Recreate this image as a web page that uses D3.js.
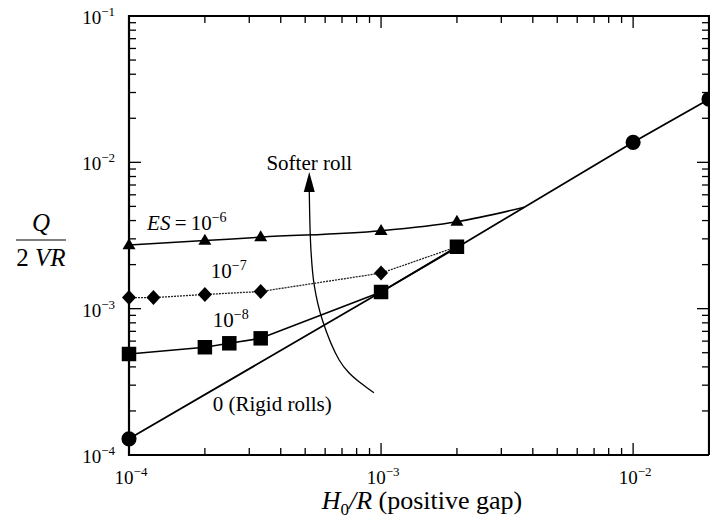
<!DOCTYPE html>
<html>
<head>
<meta charset="utf-8">
<script src="https://cdn.jsdelivr.net/npm/d3@7"></script>
<style>
  html, body { margin: 0; padding: 0; background: #fff; }
  svg { display: block; }
</style>
</head>
<body>
<svg id="chart" width="710" height="527" font-family="'Liberation Serif', 'Times New Roman', serif"></svg>
<script>
// ---------------- data ----------------
const xDomain = [1e-4, 2e-2];
const yDomain = [1e-4, 1e-1];
const xMajorTicks = [1e-4, 1e-3, 1e-2];
const yMajorTicks = [1e-4, 1e-3, 1e-2, 1e-1];
const xTickExponents = ["\u22124", "\u22123", "\u22122"];
const yTickExponents = ["\u22124", "\u22123", "\u22122", "\u22121"];

// Rigid rolls (ES = 0): circles
const rigidX = [1e-4, 1e-3, 2e-3, 1e-2, 2e-2];
const rigidY = [1.29e-4, 1.3e-3, 2.62e-3, 1.37e-2, 2.7e-2];
const rigidMarker = [true, false, false, true, true];

// ES = 1e-8: squares
const es8X = [1e-4, 2e-4, 2.5e-4, 3.33e-4, 1e-3, 2e-3];
const es8Y = [4.9e-4, 5.45e-4, 5.8e-4, 6.27e-4, 1.3e-3, 2.65e-3];
const es8Marker = [true, true, true, true, true, true];

// ES = 1e-7: diamonds (dotted line)
const es7X = [1e-4, 1.25e-4, 2e-4, 3.33e-4, 1e-3, 2e-3];
const es7Y = [1.19e-3, 1.19e-3, 1.25e-3, 1.31e-3, 1.75e-3, 2.65e-3];
const es7Marker = [true, true, true, true, true, false];

// ES = 1e-6: triangles
const es6X = [1e-4, 2e-4, 3.33e-4, 1e-3, 2e-3, 3.7e-3];
const es6Y = [2.72e-3, 2.92e-3, 3.08e-3, 3.41e-3, 3.93e-3, 4.93e-3];
const es6Marker = [true, true, true, true, true, false];

// "Softer roll" arrow path (data coordinates, tail to tip)
const arrowX = [9.37e-4, 8.3e-4, 7.47e-4, 6.82e-4, 5.85e-4, 5.43e-4, 5.27e-4, 5.19e-4];
const arrowY = [2.66e-4, 3.1e-4, 3.63e-4, 4.46e-4, 8.37e-4, 1.45e-3, 2.52e-3, 8.6e-3];

// ---------------- layout ----------------
const svg = d3.select("#chart");
const L = 129, R = 709, T = 16, B = 455;

const x = d3.scaleLog().domain(xDomain).range([L, R]);
const y = d3.scaleLog().domain(yDomain).range([B, T]);

const isPow10 = v => Math.abs(Math.log10(v) - Math.round(Math.log10(v))) < 1e-9;
const xMinor = x.ticks().filter(v => !isPow10(v));
const yMinor = y.ticks().filter(v => !isPow10(v));

// frame
const frame = svg.append("g").attr("stroke", "#000").attr("stroke-width", 2.2).attr("fill", "none");
frame.append("path").attr("d", `M${L},${B}H${R}`);
frame.append("path").attr("d", `M${L},${T}H${R + 1}`);
frame.append("path").attr("d", `M${L},${B + 1}V${T - 1}`);
frame.append("path").attr("d", `M${R},${B}V${T}`);

// inward ticks on all four sides
const maj = 12, minr = 7;
const tickG = svg.append("g").attr("stroke", "#000").attr("stroke-width", 1.3);
const xTickData = xMinor.map(v => [v, minr]).concat(xMajorTicks.map(v => [v, maj]));
const yTickData = yMinor.map(v => [v, minr]).concat(yMajorTicks.map(v => [v, maj]));
tickG.selectAll("line.xb").data(xTickData).join("line").attr("class", "xb")
  .attr("x1", d => x(d[0])).attr("x2", d => x(d[0])).attr("y1", B).attr("y2", d => B - d[1]);
tickG.selectAll("line.xt").data(xTickData).join("line").attr("class", "xt")
  .attr("x1", d => x(d[0])).attr("x2", d => x(d[0])).attr("y1", T).attr("y2", d => T + d[1]);
tickG.selectAll("line.yl").data(yTickData).join("line").attr("class", "yl")
  .attr("y1", d => y(d[0])).attr("y2", d => y(d[0])).attr("x1", L).attr("x2", d => L + d[1]);
tickG.selectAll("line.yr").data(yTickData).join("line").attr("class", "yr")
  .attr("y1", d => y(d[0])).attr("y2", d => y(d[0])).attr("x1", R).attr("x2", d => R - d[1]);

// tick labels
const tickFont = 19, supFont = 13;
xMajorTicks.forEach((v, i) => {
  const t = svg.append("text").attr("x", x(v) + 2).attr("y", B + 29)
    .attr("text-anchor", "middle").attr("font-size", tickFont);
  t.append("tspan").text("10");
  t.append("tspan").attr("dy", -8).attr("font-size", supFont).text(xTickExponents[i]);
});
yMajorTicks.forEach((v, i) => {
  const t = svg.append("text").attr("x", L - 14).attr("y", y(v) + 8)
    .attr("text-anchor", "end").attr("font-size", tickFont);
  t.append("tspan").text("10");
  t.append("tspan").attr("dy", -8).attr("font-size", supFont).text(yTickExponents[i]);
});

// ---------------- series ----------------
const line = d3.line().x(d => x(d[0])).y(d => y(d[1]));
const smooth = d3.line().x(d => x(d[0])).y(d => y(d[1])).curve(d3.curveMonotoneX);
const zip = (xs, ys, ms) => xs.map((v, i) => [v, ys[i], ms[i]]);

const rigid = zip(rigidX, rigidY, rigidMarker);
const es8 = zip(es8X, es8Y, es8Marker);
const es7 = zip(es7X, es7Y, es7Marker);
const es6 = zip(es6X, es6Y, es6Marker);

svg.append("path").datum(rigid).attr("d", line).attr("fill", "none").attr("stroke", "#000").attr("stroke-width", 1.8);
svg.append("path").datum(es8).attr("d", line).attr("fill", "none").attr("stroke", "#000").attr("stroke-width", 1.6);
svg.append("path").datum(es7).attr("d", line).attr("fill", "none").attr("stroke", "#222")
  .attr("stroke-width", 1.3).attr("stroke-dasharray", "2,1");
svg.append("path").datum(es6).attr("d", smooth).attr("fill", "none").attr("stroke", "#000").attr("stroke-width", 1.5);

const sym = (type, size) => d3.symbol().type(type).size(size);
function markers(data, gen) {
  svg.append("g").selectAll("path").data(data.filter(d => d[2])).join("path")
    .attr("transform", d => `translate(${x(d[0])},${y(d[1])})`)
    .attr("d", gen).attr("fill", "#000");
}
markers(rigid, sym(d3.symbolCircle, 180));
markers(es8, sym(d3.symbolSquare, 210));
markers(es7, () => {
  const w = 7, h = 7.5;
  return `M0,${-h}L${w},0L0,${h}L${-w},0Z`;
});
markers(es6, () => {
  const w = 6.5, h = 11;
  return `M0,${-h * 0.62}L${w},${h * 0.38}L${-w},${h * 0.38}Z`;
});

// ---------------- "Softer roll" arrow ----------------
const arrowPts = arrowX.map((v, i) => [x(v), y(arrowY[i])]);
const tip = arrowPts[arrowPts.length - 1];
const headLen = 20, headW = 5.5;
const shaftPts = arrowPts.slice(0, -1).concat([[tip[0], tip[1] + headLen - 2]]);
svg.append("path").attr("d", d3.line().curve(d3.curveCatmullRom.alpha(0.5))(shaftPts))
  .attr("fill", "none").attr("stroke", "#000").attr("stroke-width", 1.3);
svg.append("path")
  .attr("d", `M${tip[0]},${tip[1]}L${tip[0] + headW},${tip[1] + headLen}L${tip[0] - headW},${tip[1] + headLen}Z`)
  .attr("fill", "#000");

// ---------------- annotations ----------------
const annFont = 21;
svg.append("text").attr("x", x(5.19e-4)).attr("y", y(8.6e-3) - 2).attr("text-anchor", "middle")
  .attr("font-size", annFont).text("Softer roll");

const es6Label = svg.append("text").attr("x", x(1.18e-4)).attr("y", y(3.45e-3)).attr("font-size", annFont);
es6Label.append("tspan").attr("font-style", "italic").text("ES");
es6Label.append("tspan").text("\u2009=\u200910");
es6Label.append("tspan").attr("dy", -8).attr("font-size", 14).text("\u22126");

const es7Label = svg.append("text").attr("x", x(2.11e-4)).attr("y", y(1.62e-3)).attr("font-size", annFont);
es7Label.append("tspan").text("10");
es7Label.append("tspan").attr("dy", -8).attr("font-size", 14).text("\u22127");

const es8Label = svg.append("text").attr("x", x(2.15e-4)).attr("y", y(7.5e-4)).attr("font-size", annFont);
es8Label.append("tspan").text("10");
es8Label.append("tspan").attr("dy", -8).attr("font-size", 14).text("\u22128");

svg.append("text").attr("x", x(2.15e-4)).attr("y", y(2.0e-4)).attr("font-size", annFont)
  .text("0 (Rigid rolls)");

// ---------------- axis titles ----------------
const xt = svg.append("text").attr("x", 422).attr("y", 509).attr("text-anchor", "middle").attr("font-size", 26);
xt.append("tspan").attr("font-style", "italic").text("H");
xt.append("tspan").attr("dy", 6).attr("font-size", 17).text("0");
xt.append("tspan").attr("dy", -6).attr("font-style", "italic").text("/R");
xt.append("tspan").text(" (positive gap)");

svg.append("text").attr("x", 41).attr("y", 231).attr("text-anchor", "middle")
  .attr("font-size", 25).attr("font-style", "italic").text("Q");
svg.append("line").attr("x1", 16).attr("x2", 66).attr("y1", 240).attr("y2", 240)
  .attr("stroke", "#000").attr("stroke-width", 1.2);
const yt = svg.append("text").attr("x", 41).attr("y", 266).attr("text-anchor", "middle").attr("font-size", 25);
yt.append("tspan").text("2 ");
yt.append("tspan").attr("font-style", "italic").text("VR");
</script>
</body>
</html>
